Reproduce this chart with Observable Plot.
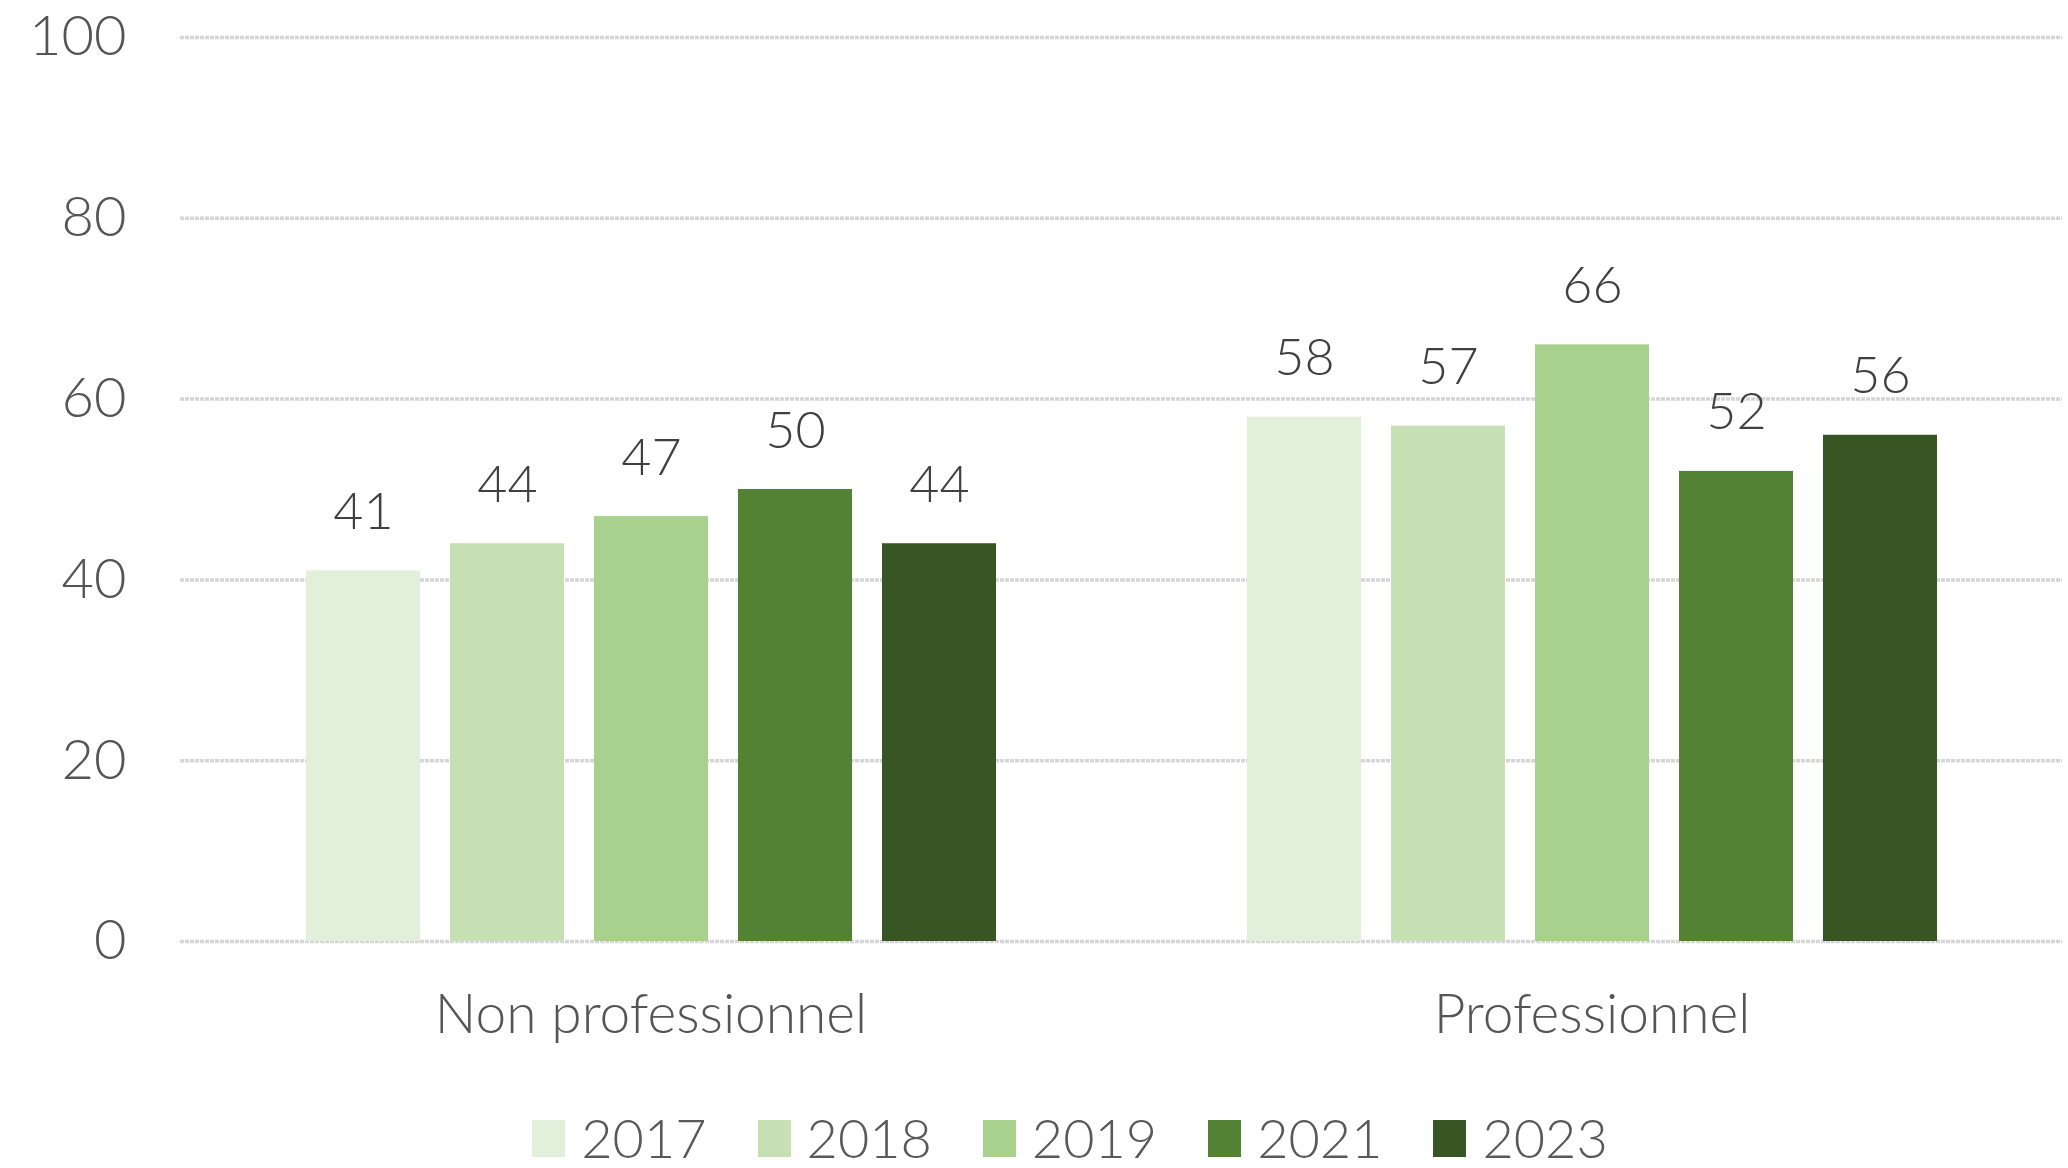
<!DOCTYPE html>
<html>
<head>
<meta charset="utf-8">
<script src="https://cdn.jsdelivr.net/npm/d3@7"></script>
<script src="https://cdn.jsdelivr.net/npm/@observablehq/plot@0.6"></script>
<style>
  html, body { margin: 0; padding: 0; background: #ffffff; }
  body { width: 2068px; height: 1168px; position: relative; overflow: hidden; font-family: Lato, sans-serif; }
  #legend { position: absolute; left: 0; top: 1108px; width: 2068px; height: 60px; display: flex; justify-content: center; align-items: center; padding-left: 72px; box-sizing: border-box; }
  .item { display: flex; align-items: center; margin-right: 51px; }
  .item:last-child { margin-right: 0; }
  .sw { width: 33px; height: 37px; margin-right: 16px; }
  .lab { font-size: 54px; color: #595959; font-weight: 300; line-height: 50px; }
</style>
</head>
<body>
<div id="chart"></div>
<div id="legend"></div>
<script>
const categories = ["Non professionnel", "Professionnel"];
const years = ["2017", "2018", "2019", "2021", "2023"];
const nonProValues = [41, 44, 47, 50, 44];
const proValues = [58, 57, 66, 52, 56];
const yearColors = ["#e2efda", "#c6e0b4", "#a9d18e", "#548235", "#375623"];
const yTicks = [0, 20, 40, 60, 80, 100];

const seriesByCategory = [nonProValues, proValues];
const data = [];
categories.forEach((c, i) => {
  years.forEach((y, j) => data.push({category: c, year: y, value: seriesByCategory[i][j]}));
});

const chart = Plot.plot({
  width: 2068,
  height: 1080,
  marginLeft: 179,
  marginRight: 6,
  marginTop: 37,
  marginBottom: 139,
  style: {fontFamily: "Lato, sans-serif", fontSize: "50px", fontWeight: 300, color: "#555555", background: "#ffffff"},
  fx: {domain: categories, padding: 0, label: null, axis: null},
  x: {domain: years, paddingInner: 0.21, paddingOuter: 0.87, axis: null},
  y: {domain: [0, 100], label: null, axis: null},
  color: {domain: years, range: yearColors},
  marks: [
    Plot.ruleY(yTicks, {stroke: "#d6d6d6", strokeWidth: 3.5, strokeDasharray: "4,1"}),
    Plot.axisY(yTicks, {tickSize: 0, tickPadding: 54, fontSize: 56, label: null}),
    Plot.axisFx({anchor: "bottom", tickSize: 0, tickPadding: 52, fontSize: 55, label: null}),
    Plot.barY(data, {fx: "category", x: "year", y: "value", fill: "year"}),
    Plot.text(data, {fx: "category", x: "year", y: "value", text: d => String(d.value), lineAnchor: "bottom", dy: -42, fill: "#404040", fontSize: 52})
  ]
});
document.getElementById("chart").appendChild(chart);

const legend = document.getElementById("legend");
years.forEach((y, i) => {
  const item = document.createElement("div");
  item.className = "item";
  const sw = document.createElement("div");
  sw.className = "sw";
  sw.style.background = yearColors[i];
  const lab = document.createElement("span");
  lab.className = "lab";
  lab.textContent = y;
  item.appendChild(sw);
  item.appendChild(lab);
  legend.appendChild(item);
});
</script>
</body>
</html>
